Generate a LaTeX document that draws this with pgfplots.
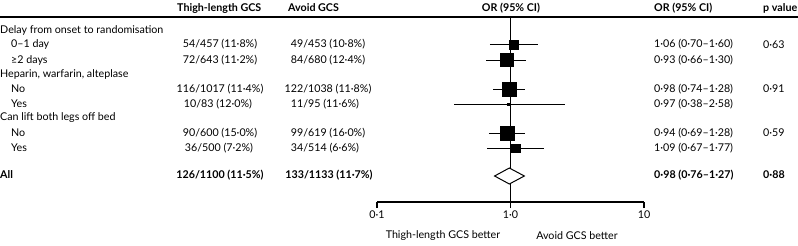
\documentclass[border=0pt]{standalone}
\usepackage{fontspec}
\setmainfont{Lato}
\usepackage{pgfplots}
\pgfplotsset{compat=1.18}
\begin{document}
\fontsize{10.7bp}{12bp}\selectfont
\begin{tikzpicture}
\begin{axis}[
  scale only axis, width=267bp, height=185bp,
  xmode=log, xmin=0.1, xmax=10, ymin=-202, ymax=-17,
  axis x line*=bottom, axis y line=none,
  xtick={0.1,1,10}, xticklabels={0·1,1·0,10},
  xtick align=outside, major tick length=6bp,
  x axis line style={line width=1.1pt}, tick style={line width=1.1pt,black},
  /pgf/number format/assume math mode=true,
  ticklabel style={font=\fontsize{10.7bp}{12bp}\selectfont},
  xticklabel style={yshift=1bp},
  clip=false, minor tick num=0, log basis x=10,
]
% vertical reference line at OR = 1
\addplot[black, line width=1pt] coordinates {(1,-17) (1,-202)};
% confidence intervals
\addplot[black, line width=1pt] coordinates {(0.70,-44.5) (1.60,-44.5)};
\addplot[black, line width=1pt] coordinates {(0.66,-60) (1.30,-60)};
\addplot[black, line width=1pt] coordinates {(0.74,-89) (1.28,-89)};
\addplot[black, line width=1pt] coordinates {(0.38,-104) (2.58,-104)};
\addplot[black, line width=1pt] coordinates {(0.69,-133) (1.28,-133)};
\addplot[black, line width=1pt] coordinates {(0.67,-148) (1.77,-148)};
% point estimates
\addplot[only marks, mark=square*, mark size=4.6bp, black] coordinates {(1.06,-44.5)};
\addplot[only marks, mark=square*, mark size=6.5bp, black] coordinates {(0.93,-60)};
\addplot[only marks, mark=square*, mark size=7bp, black] coordinates {(0.98,-89)};
\addplot[only marks, mark=square*, mark size=1.2bp, black] coordinates {(0.97,-104)};
\addplot[only marks, mark=square*, mark size=7bp, black] coordinates {(0.94,-133)};
\addplot[only marks, mark=square*, mark size=4.2bp, black] coordinates {(1.09,-148)};
% overall diamond
\addplot[black, fill=white, line width=1pt] coordinates {(0.76,-176) (0.98,-168) (1.27,-176) (0.98,-184)} -- cycle;
\end{axis}
\begin{scope}[x=1bp,y=-1bp,shift={(-377bp,202bp)}]
\draw[line width=1.2pt] (0,17) -- (798,17);
% headers
\begin{scope}[every node/.style={inner sep=0pt, font=\bfseries}]
\node[anchor=west] at (177,8) {Thigh-length GCS};
\node[anchor=west] at (288,8) {Avoid GCS};
\node at (511,8) {OR (95\% CI)};
\node[anchor=west] at (654,8) {OR (95\% CI)};
\node[anchor=west] at (763,8) {p value};
\end{scope}
\begin{scope}[every node/.style={inner sep=0pt}]
% labels
\node[anchor=west] at (0,30) {Delay from onset to randomisation};
\node[anchor=west] at (11,44.5) {0–1 day};
\node[anchor=west] at (11,60) {≥2 days};
\node[anchor=west] at (0,74) {Heparin, warfarin, alteplase};
\node[anchor=west] at (11,89) {No};
\node[anchor=west] at (11,104) {Yes};
\node[anchor=west] at (0,118) {Can lift both legs off bed};
\node[anchor=west] at (11,133) {No};
\node[anchor=west] at (11,148) {Yes};
\node[anchor=west, font=\bfseries] at (0,175) {All};
% thigh-length column
\node at (220,44.5) {54/457 (11·8\%)};
\node at (220,60) {72/643 (11·2\%)};
\node at (220,89) {116/1017 (11·4\%)};
\node at (218,104) {10/83 (12·0\%)};
\node at (220,133) {90/600 (15·0\%)};
\node at (219,148) {36/500 (7·2\%)};
\node[font=\bfseries] at (220,175) {126/1100 (11·5\%)};
% avoid column
\node at (328,44.5) {49/453 (10·8\%)};
\node at (328,60) {84/680 (12·4\%)};
\node at (328,89) {122/1038 (11·8\%)};
\node at (325,104) {11/95 (11·6\%)};
\node at (328,133) {99/619 (16·0\%)};
\node at (325,148) {34/514 (6·6\%)};
\node[font=\bfseries] at (329,175) {133/1133 (11·7\%)};
% OR column
\node[anchor=west] at (654,44.5) {1·06 (0·70–1·60)};
\node[anchor=west] at (654,60) {0·93 (0·66–1·30)};
\node[anchor=west] at (654,89) {0·98 (0·74–1·28)};
\node[anchor=west] at (654,104) {0·97 (0·38–2·58)};
\node[anchor=west] at (654,133) {0·94 (0·69–1·28)};
\node[anchor=west] at (654,148) {1·09 (0·67–1·77)};
\node[anchor=west, font=\bfseries] at (654,175) {0·98 (0·76–1·27)};
% p values
\node[anchor=west] at (763,44.5) {0·63};
\node[anchor=west] at (763,89) {0·91};
\node[anchor=west] at (763,133) {0·59};
\node[anchor=west, font=\bfseries] at (763,175) {0·88};
% direction labels
\node at (443,236) {Thigh-length GCS better};
\node at (577,236) {Avoid GCS better};
\end{scope}
\pgfresetboundingbox
\path (0,0) rectangle (798,245);
\end{scope}
\end{tikzpicture}
\end{document}
